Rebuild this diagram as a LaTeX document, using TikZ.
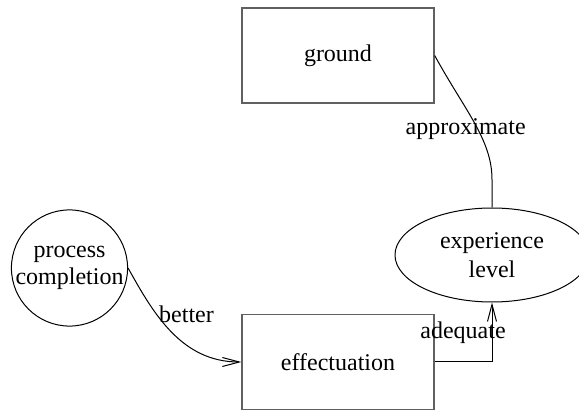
\documentclass[tikz,border=0pt]{standalone}
\usepackage{fontspec}
\setmainfont{Liberation Serif}
\usetikzlibrary{arrows.meta,shapes.geometric}
\tikzset{
  boite/.style={rectangle, draw=gray!75!black, line width=0.7pt,
                minimum width=96pt, minimum height=47.5pt, font=\fontsize{12}{14}\selectfont},
  rond/.style={circle, draw, line width=0.5pt, minimum size=57.5pt, inner sep=0pt,
               align=center, font=\fontsize{12}{13.5}\selectfont},
  ovale/.style={ellipse, draw, line width=0.5pt, minimum width=97pt, minimum height=47pt,
                inner sep=0pt, align=center, font=\fontsize{12}{14.5}\selectfont},
  lien/.style={line width=0.5pt},
  fleche/.style={lien, -{Straight Barb[length=8.5pt,width=4.5pt]}},
  etiq/.style={font=\fontsize{12}{14}\selectfont, inner sep=1pt},
}
\begin{document}
\begin{tikzpicture}[x=0.5pt, y=-0.5pt]
\useasboundingbox (0,0) rectangle (579,411);
\node[boite] (gr) at (338,55.5) {ground};
\node[boite] (ef) at (338,362) {effectuation};
\node[rond] (pc) at (69.5,268) {process\\completion};
\node[ovale] (el) at (492,255) {experience\\level};
% connectors
\draw[fleche] (pc.east) .. controls +(25,45) and +(-60,0) .. (ef.west)
  node[etiq, pos=.35, anchor=west] {better};
\draw[lien] (gr.east) .. controls +(30,55) and +(0,-40) .. ([yshift=14pt]el.north)
  node[etiq, pos=.55, xshift=-6pt] {approximate} -- (el.north);
\draw[fleche] (ef.east) -| (el.south)
  node[etiq, pos=.75, xshift=-14.5pt] {adequate};
\end{tikzpicture}
\end{document}
